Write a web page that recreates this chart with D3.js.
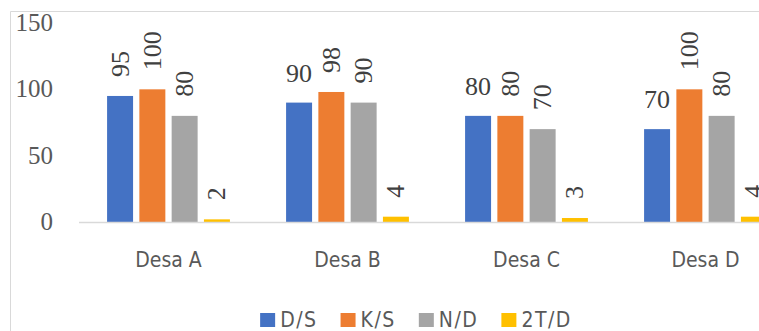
<!DOCTYPE html>
<html>
<head>
<meta charset="utf-8">
<script src="https://cdn.jsdelivr.net/npm/d3@7"></script>
<style>
  html, body { margin: 0; padding: 0; background: #fff; }
  svg { display: block; }
  .sans { font-family: "DejaVu Sans Condensed", "DejaVu Sans", sans-serif; font-stretch: condensed; }
  .serif { font-family: "Liberation Serif", "DejaVu Serif", serif; }
</style>
</head>
<body>
<svg id="chart" width="759" height="331"></svg>
<script>
// Villages on the x axis
const categories = ["Desa A", "Desa B", "Desa C", "Desa D"];
// Series names (legend order)
const series = ["D/S", "K/S", "N/D", "2T/D"];
// Values per series, one per village
const valuesDS  = [95, 90, 80, 70];
const valuesKS  = [100, 98, 80, 100];
const valuesND  = [80, 90, 70, 80];
const values2TD = [2, 4, 3, 4];
// Y axis ticks
const yTicks = [0, 50, 100, 150];
// Labels drawn horizontally instead of rotated: [series, category]
const flatLabels = [["D/S", "Desa B"], ["D/S", "Desa C"], ["D/S", "Desa D"]];

const colors = { "D/S": "#4472C4", "K/S": "#ED7D31", "N/D": "#A5A5A5", "2T/D": "#FFC000" };
const seriesValues = { "D/S": valuesDS, "K/S": valuesKS, "N/D": valuesND, "2T/D": values2TD };

const svg = d3.select("#chart");

// chart frame (top and left edges visible)
svg.append("line").attr("x1", 10.5).attr("x2", 759).attr("y1", 11.5).attr("y2", 11.5)
  .attr("stroke", "#d9d9d9").attr("stroke-width", 1);
svg.append("line").attr("x1", 10.5).attr("x2", 10.5).attr("y1", 11.5).attr("y2", 331)
  .attr("stroke", "#d9d9d9").attr("stroke-width", 1);

const y = d3.scaleLinear().domain([0, 150]).range([222, 23]);
const x0 = d3.scaleBand().domain(categories).range([79, 795]).padding(0);
const x1 = d3.scaleBand().domain(series).range([0, x0.bandwidth()])
  .paddingInner(0.195).paddingOuter(0.87);

// y axis labels (no axis line)
const yAxis = d3.axisLeft(y).tickValues(yTicks).tickSize(0).tickPadding(0);
const yg = svg.append("g").attr("transform", "translate(53,0)").call(yAxis);
yg.select(".domain").remove();
yg.selectAll("text")
  .attr("class", "serif")
  .attr("font-family", null)
  .attr("font-size", 25)
  .attr("fill", "#595959")
  .attr("dy", "0.3em");

// bars
const rows = [];
categories.forEach((c, i) => series.forEach(s => rows.push({ cat: c, s, v: seriesValues[s][i] })));

const g = svg.append("g");
g.selectAll("rect").data(rows).join("rect")
  .attr("x", d => x0(d.cat) + x1(d.s))
  .attr("y", d => y(d.v))
  .attr("width", x1.bandwidth())
  .attr("height", d => y(0) - y(d.v))
  .attr("fill", d => colors[d.s]);

// baseline
svg.append("line").attr("x1", 79).attr("x2", 795).attr("y1", y(0) + 0.5).attr("y2", y(0) + 0.5)
  .attr("stroke", "#d9d9d9").attr("stroke-width", 1.5);

// value labels
const isFlat = d => flatLabels.some(f => f[0] === d.s && f[1] === d.cat);
g.selectAll("text.val").data(rows).join("text")
  .attr("class", "val serif")
  .attr("font-size", 26)
  .attr("fill", "#404040")
  .attr("text-anchor", d => isFlat(d) ? "middle" : "start")
  .attr("dominant-baseline", d => isFlat(d) ? "auto" : "central")
  .attr("transform", d => {
    const cx = x0(d.cat) + x1(d.s) + x1.bandwidth() / 2;
    return isFlat(d)
      ? `translate(${cx},${y(d.v) - 21})`
      : `translate(${cx},${y(d.v) - 19}) rotate(-90)`;
  })
  .text(d => d.v);

// category labels
const xAxis = d3.axisBottom(x0).tickSize(0).tickPadding(0);
const xg = svg.append("g").attr("transform", "translate(0,267)").call(xAxis);
xg.select(".domain").remove();
xg.selectAll("text")
  .attr("class", "sans")
  .attr("font-family", null)
  .attr("font-size", 21)
  .attr("fill", "#595959")
  .attr("dy", 0)
  .attr("y", 0);

// legend
const lg = svg.append("g").attr("class", "legend");
const items = lg.selectAll("g").data(series).join("g");
items.append("rect").attr("width", 15).attr("height", 14).attr("y", -14).attr("fill", d => colors[d]);
items.append("text").attr("class", "sans").attr("x", 20).attr("y", 0)
  .attr("font-size", 21).attr("letter-spacing", 1.5).attr("fill", "#595959").text(d => d);
let cursor = 0;
const gapBetween = 23;
items.each(function () {
  const w = 20 + this.querySelector("text").getComputedTextLength();
  d3.select(this).attr("transform", `translate(${cursor},0)`);
  cursor += w + gapBetween;
});
const totalW = cursor - gapBetween;
lg.attr("transform", `translate(${416 - totalW / 2},327)`);
</script>
</body>
</html>
